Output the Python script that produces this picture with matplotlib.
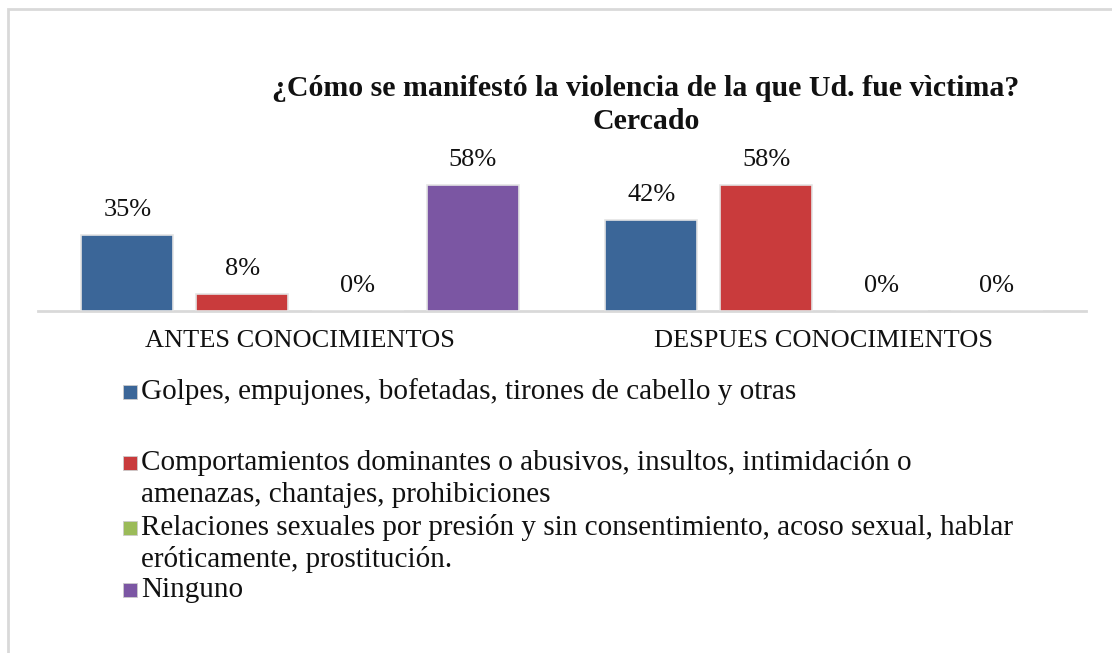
import matplotlib
matplotlib.use("Agg")
import matplotlib.pyplot as plt
from matplotlib.patches import Rectangle
import numpy as np

plt.rcParams['font.family'] = ['Liberation Serif', 'DejaVu Serif']

title = "¿Cómo se manifestó la violencia de la que Ud. fue vìctima?\nCercado"
categories = ["ANTES CONOCIMIENTOS", "DESPUES CONOCIMIENTOS"]
series_names = [
    "Golpes, empujones, bofetadas, tirones de cabello y otras",
    "Comportamientos dominantes o abusivos, insultos, intimidación o\namenazas, chantajes, prohibiciones",
    "Relaciones sexuales por presión y sin consentimiento, acoso sexual, hablar\neróticamente, prostitución.",
    "Ninguno",
]
golpes = [35, 42]
comportamientos = [8, 58]
relaciones = [0, 0]
ninguno = [58, 0]
series_values = [golpes, comportamientos, relaciones, ninguno]
colors = ["#3B6698", "#C93B3C", "#9BBB59", "#7B56A3"]

W, H = 1112, 653
fig = plt.figure(figsize=(W / 100, H / 100), dpi=100)

def fx(px):
    return px / W

def fy(py):
    return 1 - py / H

# chart border (right and bottom edges lie outside the picture)
fig.patches.append(Rectangle((fx(8), fy(700)), fx(1200 - 8), fy(9) - fy(700),
                             transform=fig.transFigure, fill=False,
                             edgecolor="#D9D9D9", linewidth=2))

ax_left, ax_right, ax_bottom, ax_top = 38, 1086, 311, 159
ax = fig.add_axes([fx(ax_left), fy(ax_bottom), fx(ax_right - ax_left), fy(ax_top) - fy(ax_bottom)])
ax.set_xlim(-0.5, 1.5)
ax.set_ylim(0, 70)

x = np.arange(len(categories))
n = len(series_values)
step = 0.2195
width = 0.1756
for i, (vals, c) in enumerate(zip(series_values, colors)):
    pos = x + (i - (n - 1) / 2) * step
    bars = ax.bar(pos, vals, width=width, color=c, edgecolor="#E4E4E4", linewidth=1.2, zorder=3)
    for b, v in zip(bars, vals):
        ax.annotate(f"{v}%", (b.get_x() + b.get_width() / 2, v), xytext=(0, 18),
                    textcoords="offset points", ha="center", va="center",
                    fontsize=19, color="#111111", zorder=5)

for s in ["top", "right", "left"]:
    ax.spines[s].set_visible(False)
ax.spines["bottom"].set_color("#D9D9D9")
ax.spines["bottom"].set_linewidth(2)
ax.set_yticks([])
ax.set_xticks(x)
ax.set_xticklabels(categories, fontsize=19, color="#111111")
ax.tick_params(axis="x", length=0, pad=14)

fig.text(fx(646), fy(105), title, ha="center", va="center", fontsize=21.5,
         fontweight="bold", linespacing=1.32, color="#111111")

# legend (manual layout)
line_h = 31
first_line_y = [392, 463, 528, 590]
for name, c, y0 in zip(series_names, colors, first_line_y):
    nlines = name.count("\n") + 1
    fig.patches.append(Rectangle((fx(123), fy(y0 + 7)), fx(14), fy(y0 - 7) - fy(y0 + 7),
                                 transform=fig.transFigure, facecolor=c,
                                 edgecolor="#CCCCCC", linewidth=0.6))
    yc = y0 + (nlines - 1) * line_h / 2
    fig.text(fx(141), fy(yc), name, ha="left", va="center", fontsize=21,
             linespacing=1.25, color="#111111")

fig.savefig("out.png", dpi=100, facecolor="white")
